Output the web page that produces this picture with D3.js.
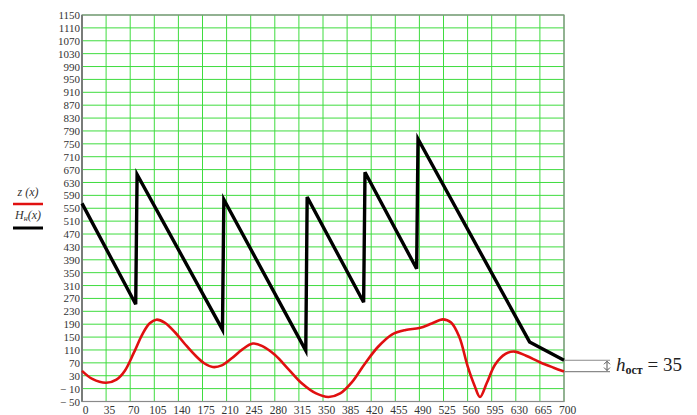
<!DOCTYPE html>
<html>
<head>
<meta charset="utf-8">
<script src="https://cdn.jsdelivr.net/npm/d3@7"></script>
<style>
  html, body { margin: 0; padding: 0; background: #fff; }
  svg { display: block; }
  .serif { font-family: "Liberation Serif", "DejaVu Serif", serif; }
</style>
</head>
<body>
<svg id="chart" width="697" height="415"></svg>
<script>
// Ticks
const xTicks = d3.range(0, 701, 35);
const yTicks = d3.range(-50, 1151, 40);

// z(x): ground profile
const zX = [0, 15, 35, 50, 62, 75, 88, 98, 108, 120, 135, 150, 165, 178, 190, 203, 218, 233, 248, 262, 280, 300, 320, 340, 358, 375, 392, 410, 430, 450, 470, 490, 508, 524, 536, 548, 560, 570, 578, 588, 600, 615, 628, 645, 665, 685, 700];
const zV = [45, 20, 8, 18, 45, 100, 160, 192, 204, 195, 165, 127, 92, 68, 57, 62, 85, 112, 130, 122, 95, 50, 5, -25, -36, -25, 10, 65, 120, 158, 172, 178, 192, 205, 195, 150, 60, 0, -36, 8, 65, 98, 105, 92, 72, 55, 43];

// H_н(x): head line
const hX = [0, 78, 80, 204, 206, 325, 327, 409, 411, 486, 488, 650, 700];
const hV = [565, 252, 655, 173, 577, 108, 585, 258, 662, 362, 765, 135, 78];

const residual = 35;

const svg = d3.select("#chart");
const pLeft = 82, pRight = 564, pTop = 15, pBottom = 401.5;

const x = d3.scaleLinear().domain([0, 700]).range([pLeft, pRight]);
const y = d3.scaleLinear().domain([-50, 1150]).range([pBottom, pTop]);

// grid
const grid = svg.append("g");
grid.selectAll("line.h").data(yTicks).join("line").attr("class", "h")
  .attr("x1", pLeft).attr("x2", pRight)
  .attr("y1", d => y(d)).attr("y2", d => y(d))
  .attr("stroke", "#3fdc3f").attr("stroke-width", 1);
grid.selectAll("line.v").data(xTicks).join("line").attr("class", "v")
  .attr("y1", pTop).attr("y2", pBottom)
  .attr("x1", d => x(d)).attr("x2", d => x(d))
  .attr("stroke", "#3fdc3f").attr("stroke-width", 1);

// frame
svg.append("rect")
  .attr("x", pLeft).attr("y", pTop)
  .attr("width", pRight - pLeft).attr("height", pBottom - pTop)
  .attr("fill", "none").attr("stroke", "#8a8a8a").attr("stroke-width", 1.2);
svg.append("line")
  .attr("x1", pLeft).attr("x2", pLeft).attr("y1", pTop).attr("y2", pBottom)
  .attr("stroke", "#777").attr("stroke-width", 1.8);

// axes (labels only)
const fmt = d => d < 0 ? "\u2212 " + Math.abs(d) : String(d);
const yAxis = svg.append("g")
  .attr("transform", `translate(${pLeft - 2},0)`)
  .call(d3.axisLeft(y).tickValues(yTicks).tickSize(0).tickPadding(0).tickFormat(fmt));
yAxis.select(".domain").remove();
yAxis.attr("font-family", null).attr("font-size", null);
yAxis.selectAll("text")
  .attr("class", "serif")
  .style("font-size", "11px")
  .attr("fill", "#333");

const xAxis = svg.append("g")
  .attr("transform", `translate(3,${pBottom + 1})`)
  .call(d3.axisBottom(x).tickValues(xTicks).tickSize(0).tickPadding(3).tickFormat(fmt));
xAxis.select(".domain").remove();
xAxis.attr("font-family", null).attr("font-size", null);
xAxis.selectAll("text")
  .attr("class", "serif")
  .style("font-size", "11.5px")
  .attr("fill", "#333");

// lines
const zData = zX.map((d, i) => [d, zV[i]]);
const hData = hX.map((d, i) => [d, hV[i]]);

svg.append("path")
  .datum(zData)
  .attr("fill", "none")
  .attr("stroke", "#e01010")
  .attr("stroke-width", 2.6)
  .attr("d", d3.line().x(d => x(d[0])).y(d => y(d[1])).curve(d3.curveCatmullRom.alpha(0.5)));

svg.append("path")
  .datum(hData)
  .attr("fill", "none")
  .attr("stroke", "#000")
  .attr("stroke-width", 3.4)
  .attr("stroke-linejoin", "miter")
  .attr("d", d3.line().x(d => x(d[0])).y(d => y(d[1])));

// legend
const legend = svg.append("g");
legend.append("text")
  .attr("class", "serif")
  .attr("x", 28).attr("y", 196)
  .attr("text-anchor", "middle")
  .style("font-style", "italic")
  .style("font-size", "12px")
  .attr("fill", "#333")
  .text("z (x)");
legend.append("line")
  .attr("x1", 13).attr("x2", 43).attr("y1", 204).attr("y2", 204)
  .attr("stroke", "#e01010").attr("stroke-width", 2.5);
const hl = legend.append("text")
  .attr("class", "serif")
  .attr("x", 28).attr("y", 219)
  .attr("text-anchor", "middle")
  .style("font-style", "italic")
  .style("font-size", "12px")
  .attr("fill", "#333");
hl.append("tspan").text("H");
hl.append("tspan").style("font-size", "8px").attr("dy", 2).text("н");
hl.append("tspan").attr("dy", -2).text("(x)");
legend.append("line")
  .attr("x1", 13).attr("x2", 43).attr("y1", 228).attr("y2", 228)
  .attr("stroke", "#000").attr("stroke-width", 3);

// residual head annotation
const yTopEnd = y(hV[hV.length - 1]);
const yBotEnd = y(zV[zV.length - 1]);
const ann = svg.append("g");
[yTopEnd, yBotEnd].forEach(v => {
  ann.append("line")
    .attr("x1", pRight).attr("x2", 610).attr("y1", v).attr("y2", v)
    .attr("stroke", "#8a8a8a").attr("stroke-width", 1.2);
});
const ax = 607;
ann.append("line")
  .attr("x1", ax).attr("x2", ax).attr("y1", yTopEnd + 1).attr("y2", yBotEnd - 1)
  .attr("stroke", "#555").attr("stroke-width", 1);
ann.append("path")
  .attr("d", `M${ax - 3},${yTopEnd + 4}L${ax},${yTopEnd + 1}L${ax + 3},${yTopEnd + 4}M${ax - 3},${yBotEnd - 4}L${ax},${yBotEnd - 1}L${ax + 3},${yBotEnd - 4}`)
  .attr("fill", "none").attr("stroke", "#555").attr("stroke-width", 1);
const at = ann.append("text")
  .attr("class", "serif")
  .attr("x", 616).attr("y", (yTopEnd + yBotEnd) / 2 + 5)
  .style("font-size", "19px")
  .attr("fill", "#222");
at.append("tspan").style("font-style", "italic").text("h");
at.append("tspan").style("font-size", "12px").style("font-weight", "bold").attr("dy", 3).text("ост");
at.append("tspan").attr("dy", -3).text(" = " + residual);
</script>
</body>
</html>
